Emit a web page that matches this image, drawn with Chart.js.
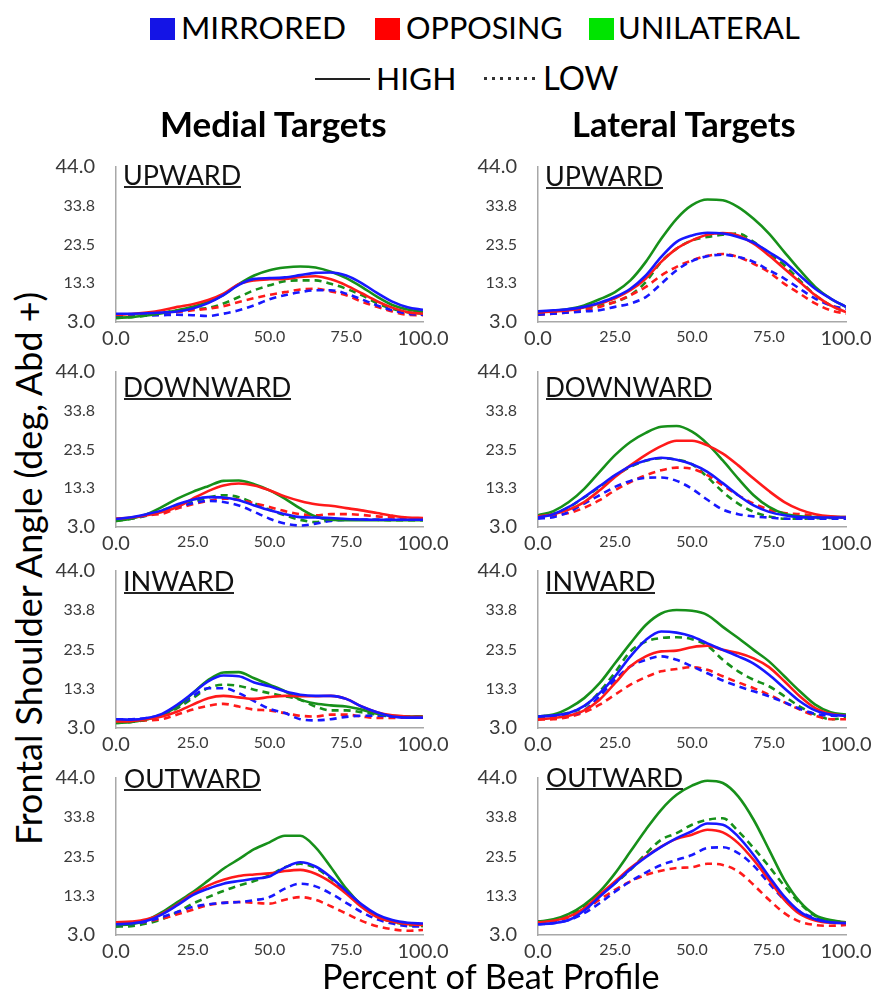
<!DOCTYPE html>
<html><head><meta charset="utf-8">
<script src="https://cdn.jsdelivr.net/npm/chart.js@4.4.1/dist/chart.umd.min.js"></script>
<style>
html,body{margin:0;padding:0;background:#fff;}
#wrap{position:relative;width:884px;height:994px;overflow:hidden;font-family:Lato,"Open Sans",sans-serif;color:#000;background:#fff;}
.t{position:absolute;white-space:nowrap;line-height:normal;font-family:Lato,sans-serif;}
.sq{position:absolute;}
.ul{position:absolute;height:2px;background:#222;}
canvas{position:absolute;}
</style></head>
<body><div id="wrap"></div>
<script>
// ---------------- DATA ----------------
const pct = [0,5,10,15,20,25,30,35,40,45,50,55,60,65,70,75,80,85,90,95,100];
const xTickValues = [0,25,50,75,100];
const xTickLabels = ['0.0','25.0','50.0','75.0','100.0'];
const yTickValues = [3,13.25,23.5,33.75,44];
const yTickLabels = ['3.0','13.3','23.5','33.8','44.0'];
const groups = ['MIRRORED','OPPOSING','UNILATERAL'];
const levels = ['HIGH','LOW'];
const columnTitles = ['Medial Targets','Lateral Targets'];
const directions = ['UPWARD','DOWNWARD','INWARD','OUTWARD'];
const yTitle = 'Frontal Shoulder Angle (deg, Abd +)';
const xTitle = 'Percent of Beat Profile';

// Medial UPWARD
const medUp_MIR_H = [5.2,5.2,5.3,5.5,5.8,6.6,8.0,10.1,12.8,14.4,14.6,14.8,15.4,16.0,16.1,15.3,13.3,10.7,8.4,6.9,6.2];
const medUp_OPP_H = [4.9,5.1,5.5,6.1,7.0,7.7,8.8,10.5,13.0,14.0,14.3,14.4,14.9,15.1,14.3,12.7,10.6,8.5,6.8,5.6,5.2];
const medUp_UNI_H = [4.1,4.3,4.7,5.3,6.1,7.0,8.3,10.2,13.0,15.3,16.7,17.4,17.7,17.4,16.3,14.6,12.3,9.7,7.5,6.3,5.6];
const medUp_MIR_L = [4.6,4.6,4.7,4.8,4.9,4.8,4.6,5.2,6.1,7.4,9.0,10.1,10.9,11.4,11.4,10.5,9.0,7.4,6.1,5.2,4.9];
const medUp_OPP_L = [4.6,4.7,4.9,5.2,5.6,6.1,6.5,7.2,8.3,9.3,10.2,10.9,11.6,11.8,11.1,10.1,8.4,7.0,5.8,4.9,4.8];
const medUp_UNI_L = [4.1,4.3,4.7,5.4,6.1,6.4,6.7,7.9,9.6,11.4,12.7,13.8,14.0,14.0,13.1,11.8,10.1,8.0,6.5,5.6,5.2];
// Lateral UPWARD
const latUp_MIR_H = [5.8,6.1,6.4,7.0,8.1,9.6,11.8,15.3,20.2,24.2,25.9,26.6,26.4,25.5,24.0,21.5,18.9,15.3,11.8,9.2,7.0];
const latUp_OPP_H = [5.5,5.8,6.1,6.9,7.9,9.3,11.4,14.5,18.9,22.4,24.6,26.1,26.5,25.9,23.7,20.6,17.1,13.6,10.1,7.4,5.6];
const latUp_UNI_H = [5.6,5.9,6.4,7.4,9.0,10.9,14.0,18.9,25.0,30.3,33.9,35.4,35.2,33.4,30.3,26.4,21.5,16.7,12.3,9.2,7.0];
const latUp_MIR_L = [4.9,5.2,5.5,5.8,6.1,7.0,7.9,9.6,13.1,16.7,19.1,20.4,20.8,20.2,18.9,16.7,14.5,11.8,9.2,7.4,6.5];
const latUp_OPP_L = [4.9,5.2,5.6,6.2,7.0,8.3,10.1,12.3,15.3,17.6,19.3,20.5,21.0,20.2,18.4,16.2,13.1,10.5,7.9,6.1,5.2];
const latUp_UNI_L = [5.3,5.6,6.0,6.6,7.4,8.3,10.1,13.6,18.9,22.4,24.6,25.5,26.1,26.4,24.2,21.1,18.0,14.0,10.1,7.4,5.6];
// Medial DOWNWARD
const medDown_MIR_H = [5.1,5.6,6.4,7.4,9.0,10.2,10.9,10.8,10.1,8.7,7.4,6.4,5.6,5.5,5.4,5.1,5.0,4.9,4.9,4.9,4.9];
const medDown_OPP_H = [5.2,5.5,6.1,7.0,8.3,10.5,12.5,14.0,14.5,14.0,12.7,11.1,9.9,9.0,8.6,8.0,7.4,6.7,6.0,5.5,5.4];
const medDown_UNI_H = [4.6,5.2,6.4,8.3,10.5,12.3,13.8,15.2,15.3,14.3,12.7,10.5,7.9,5.8,4.9,4.8,4.8,4.8,4.8,4.8,4.8];
const medDown_MIR_L = [5.0,5.3,6.1,7.0,8.3,9.3,9.9,9.6,8.7,7.0,5.2,3.9,3.4,3.9,4.6,4.9,4.9,4.9,4.9,4.9,4.9];
const medDown_OPP_L = [5.2,5.4,6.1,6.5,7.9,9.0,9.9,10.5,10.2,9.3,8.3,7.2,6.4,6.1,6.4,6.4,6.2,5.8,5.5,5.3,5.2];
const medDown_UNI_L = [4.6,5.2,6.0,7.4,8.6,9.6,10.8,11.4,10.9,9.3,7.6,6.1,4.9,4.3,4.8,4.9,4.9,4.9,4.8,4.8,4.8];
// Lateral DOWNWARD
const latDown_MIR_H = [5.5,6.4,8.3,10.9,13.8,16.7,19.1,20.6,21.3,20.8,19.6,17.6,14.6,11.4,8.7,7.0,6.1,5.6,5.5,5.5,5.5];
const latDown_OPP_H = [5.8,6.4,7.6,9.6,12.7,16.2,19.3,22.1,24.4,25.8,25.8,24.6,22.4,19.3,15.8,12.5,9.6,7.6,6.4,5.8,5.6];
const latDown_UNI_H = [6.1,7.2,9.6,13.1,17.6,22.0,25.5,27.9,29.5,29.7,28.2,25.0,20.6,15.8,11.4,8.3,6.5,5.8,5.6,5.6,5.6];
const latDown_MIR_L = [5.2,5.6,7.0,9.2,11.4,13.6,15.2,16.0,16.1,15.2,13.1,10.2,7.6,6.4,5.8,5.5,5.2,5.2,5.2,5.2,5.2];
const latDown_OPP_L = [5.8,6.1,6.7,8.1,10.1,12.7,14.9,16.7,18.0,18.7,18.4,16.7,14.0,11.4,9.2,7.6,6.7,6.4,6.0,5.6,5.5];
const latDown_UNI_L = [5.8,6.5,8.2,10.8,13.6,16.5,18.9,20.5,21.2,20.8,19.6,16.2,12.3,9.2,7.0,5.8,5.2,5.2,5.3,5.4,5.5];
// Medial INWARD
const medIn_MIR_H = [5.3,5.2,5.6,6.7,9.1,12.1,15.2,16.7,16.5,14.9,13.9,12.6,11.7,11.4,11.4,10.6,8.6,7.1,6.0,5.7,5.7];
const medIn_OPP_H = [4.7,4.8,5.3,6.0,7.3,9.1,10.8,11.4,11.0,10.6,11.1,11.4,11.3,11.3,11.4,10.6,8.6,7.1,6.3,6.0,5.9];
const medIn_UNI_H = [4.3,4.6,5.2,6.5,8.6,12.1,15.5,17.5,17.6,16.0,14.3,12.6,10.4,9.4,8.9,8.6,7.8,6.7,6.2,6.0,6.0];
const medIn_MIR_L = [5.3,5.3,5.6,6.5,8.6,11.3,13.4,13.4,12.1,10.0,8.0,6.9,5.3,5.0,5.3,5.9,6.2,6.2,6.0,5.9,5.9];
const medIn_OPP_L = [4.6,4.7,5.0,5.3,6.5,7.8,8.8,9.3,8.6,7.8,7.6,6.9,6.2,6.0,6.5,6.5,6.0,5.6,5.6,5.8,5.9];
const medIn_UNI_L = [4.3,4.6,5.2,6.3,8.2,10.8,13.4,14.3,14.0,13.0,12.1,11.3,10.4,8.6,7.6,7.6,7.1,6.5,6.0,6.0,6.0];
// Lateral INWARD
const latIn_MIR_H = [6.0,6.3,6.9,8.8,12.1,16.5,21.7,26.0,28.2,27.9,26.9,25.1,23.4,21.7,19.8,16.9,13.4,10.0,7.6,6.5,6.2];
const latIn_OPP_H = [5.3,5.6,6.2,7.6,10.4,14.7,19.1,21.7,23.0,23.2,24.1,24.5,23.4,22.6,21.2,18.9,15.2,11.3,8.2,6.7,6.2];
const latIn_UNI_H = [6.0,6.5,8.2,10.8,14.7,19.9,25.1,29.9,32.9,33.8,33.6,32.5,29.4,26.5,23.4,20.4,16.5,12.6,9.1,7.1,6.5];
const latIn_MIR_L = [5.8,5.9,6.3,7.6,11.3,15.6,19.1,20.8,21.7,20.8,19.1,17.3,15.4,13.9,12.6,11.3,9.7,8.0,6.7,6.2,6.2];
const latIn_OPP_L = [5.2,5.3,5.9,7.1,9.1,11.7,14.3,16.3,17.8,18.4,18.9,18.2,16.5,14.9,13.4,11.7,9.7,7.8,6.2,5.3,5.3];
const latIn_UNI_L = [6.0,6.3,7.0,8.6,12.5,17.5,23.0,25.6,26.5,26.7,26.2,24.5,20.8,17.8,15.6,13.9,11.3,8.6,6.5,5.3,5.6];
// Medial OUTWARD
const medOut_MIR_H = [5.8,6.0,6.7,8.4,10.8,13.4,15.1,16.4,17.1,17.7,18.3,20.6,22.0,20.9,18.1,14.5,11.0,8.4,6.9,6.2,6.0];
const medOut_OPP_H = [6.3,6.5,7.1,8.6,11.0,13.8,15.9,17.4,18.4,18.8,19.1,19.7,20.0,19.0,16.8,13.8,10.3,7.7,6.5,5.8,5.6];
const medOut_UNI_H = [5.6,5.8,6.9,9.0,11.6,14.2,17.2,20.3,22.8,25.4,27.2,28.9,28.9,25.9,20.7,15.1,10.8,7.9,6.5,6.0,5.6];
const medOut_MIR_L = [5.6,5.8,6.5,7.7,9.0,10.3,11.0,11.4,11.6,12.1,12.9,15.1,16.4,15.7,13.8,11.4,9.0,7.1,6.0,5.3,5.2];
const medOut_OPP_L = [5.8,6.0,6.5,7.3,8.4,9.6,10.8,11.4,11.6,11.4,11.2,12.2,12.9,12.2,10.5,8.6,6.7,5.3,4.5,4.1,4.3];
const medOut_UNI_L = [5.2,5.3,6.0,7.1,9.0,11.2,12.9,14.5,15.9,17.1,18.6,20.7,21.6,20.5,17.7,14.2,10.8,7.9,6.5,5.6,5.3];
// Lateral OUTWARD
const latOut_MIR_H = [5.8,6.1,6.9,9.4,13.0,16.5,20.2,23.3,26.0,28.3,30.1,32.1,31.8,28.7,23.9,18.3,13.0,9.1,7.1,6.3,6.1];
const latOut_OPP_H = [6.3,6.7,7.8,10.0,13.5,17.0,20.5,23.5,26.1,28.1,29.2,30.5,29.8,27.0,22.6,17.4,12.2,8.5,6.8,6.2,6.1];
const latOut_UNI_H = [6.5,7.1,8.5,10.9,14.3,19.1,24.8,30.5,35.7,39.6,42.0,43.3,42.7,39.2,33.1,25.3,17.4,11.7,8.2,6.9,6.3];
const latOut_MIR_L = [5.8,6.1,6.9,8.7,11.3,14.3,17.0,19.3,21.3,22.6,23.9,25.7,25.9,24.4,21.1,16.5,12.2,9.1,7.4,6.5,6.2];
const latOut_OPP_L = [6.3,6.6,7.6,9.5,12.2,14.8,17.0,18.7,19.8,20.5,20.7,21.6,21.3,19.6,16.1,12.2,8.7,6.5,5.6,5.4,5.6];
const latOut_UNI_L = [6.5,6.8,8.0,10.4,13.5,16.5,20.0,24.2,27.9,29.6,31.8,33.1,33.5,30.1,25.7,20.9,15.8,11.3,8.0,6.8,6.3];

// ---------------- STYLE / LAYOUT ----------------
const lineColors = {MIRRORED:'#1818ff', OPPOSING:'#ff1a1a', UNILATERAL:'#17901a'};
const legendColors = {MIRRORED:'#1414e6', OPPOSING:'#ff0000', UNILATERAL:'#00e400'};
const colLeft = [116, 538], colW = [307, 308];
const rowTop = [167, 372, 571, 778], rowH = [155, 155, 157, 157];
const YW = 70, PT = 38, PR = 34, XH = 38;

const panels = [
  {row:0,col:0,title:'UPWARD',   s:{MIRRORED:[medUp_MIR_H,medUp_MIR_L],OPPOSING:[medUp_OPP_H,medUp_OPP_L],UNILATERAL:[medUp_UNI_H,medUp_UNI_L]}},
  {row:0,col:1,title:'UPWARD',   s:{MIRRORED:[latUp_MIR_H,latUp_MIR_L],OPPOSING:[latUp_OPP_H,latUp_OPP_L],UNILATERAL:[latUp_UNI_H,latUp_UNI_L]}},
  {row:1,col:0,title:'DOWNWARD', s:{MIRRORED:[medDown_MIR_H,medDown_MIR_L],OPPOSING:[medDown_OPP_H,medDown_OPP_L],UNILATERAL:[medDown_UNI_H,medDown_UNI_L]}},
  {row:1,col:1,title:'DOWNWARD', s:{MIRRORED:[latDown_MIR_H,latDown_MIR_L],OPPOSING:[latDown_OPP_H,latDown_OPP_L],UNILATERAL:[latDown_UNI_H,latDown_UNI_L]}},
  {row:2,col:0,title:'INWARD',   s:{MIRRORED:[medIn_MIR_H,medIn_MIR_L],OPPOSING:[medIn_OPP_H,medIn_OPP_L],UNILATERAL:[medIn_UNI_H,medIn_UNI_L]}},
  {row:2,col:1,title:'INWARD',   s:{MIRRORED:[latIn_MIR_H,latIn_MIR_L],OPPOSING:[latIn_OPP_H,latIn_OPP_L],UNILATERAL:[latIn_UNI_H,latIn_UNI_L]}},
  {row:3,col:0,title:'OUTWARD',  s:{MIRRORED:[medOut_MIR_H,medOut_MIR_L],OPPOSING:[medOut_OPP_H,medOut_OPP_L],UNILATERAL:[medOut_UNI_H,medOut_UNI_L]}},
  {row:3,col:1,title:'OUTWARD',  s:{MIRRORED:[latOut_MIR_H,latOut_MIR_L],OPPOSING:[latOut_OPP_H,latOut_OPP_L],UNILATERAL:[latOut_UNI_H,latOut_UNI_L]}}
];
// title ink placement [left, width, baseline]
const titleBox = {
  UPWARD:[[125,115,185],[547,115,186]],
  DOWNWARD:[[125,165,397],[547,164,397]],
  INWARD:[[125,108,591],[547,107,591]],
  OUTWARD:[[125,135,788],[547,135,787]]
};

const wrap = document.getElementById('wrap');
const mctx = document.createElement('canvas').getContext('2d');

// place text so its ink spans [left, left+width] and its baseline sits at y
function placeText(txt, left, width, baseline, weight, color) {
  weight = weight || 'normal';
  mctx.font = weight + ' 100px Lato';
  const m = mctx.measureText(txt);
  const ink = m.actualBoundingBoxLeft + m.actualBoundingBoxRight;
  const size = 100 * width / ink;
  mctx.font = weight + ' ' + size + 'px Lato';
  const m2 = mctx.measureText(txt);
  const el = document.createElement('div');
  el.className = 't';
  el.textContent = txt;
  el.style.fontSize = size + 'px';
  el.style.fontWeight = weight;
  el.style.color = color || '#000';
  el.style.left = (left + m2.actualBoundingBoxLeft) + 'px';
  el.style.top = (baseline - m2.fontBoundingBoxAscent) + 'px';
  el.style.zIndex = 5;
  wrap.appendChild(el);
  return {el, size, m: m2};
}

// ---------------- LEGEND ----------------
const legendSq = [[150,18],[375,18],[589,18]];
const legendTxt = [[183,161],[407,154],[620,179]];
groups.forEach((g,i) => {
  const sq = document.createElement('div');
  sq.className = 'sq';
  sq.style.left = legendSq[i][0] + 'px'; sq.style.top = legendSq[i][1] + 'px';
  sq.style.width = '25px'; sq.style.height = '22px';
  sq.style.background = legendColors[g];
  wrap.appendChild(sq);
  placeText(g, legendTxt[i][0], legendTxt[i][1], 39);
});
// line style legend
(function(){
  const l1 = document.createElement('div');
  l1.style.cssText = 'position:absolute;left:315px;top:78px;width:55px;height:1.5px;background:#222;';
  wrap.appendChild(l1);
  placeText(levels[0], 378, 75, 90);
  const l2 = document.createElement('div');
  l2.style.cssText = 'position:absolute;left:484px;top:77px;width:56px;height:3px;background:repeating-linear-gradient(90deg,#333 0 3px,transparent 3px 8px);';
  wrap.appendChild(l2);
  placeText(levels[1], 546, 72, 90);
})();
// column headers
placeText(columnTitles[0], 162, 224, 137, 'bold');
placeText(columnTitles[1], 574, 221, 137, 'bold');

// axis titles
placeText(xTitle, 325, 334, 989);
(function(){
  const txt = yTitle, width = 552;
  mctx.font = 'normal 100px Lato';
  const m = mctx.measureText(txt);
  const ink = m.actualBoundingBoxLeft + m.actualBoundingBoxRight;
  const size = 100 * width / ink;
  mctx.font = 'normal ' + size + 'px Lato';
  const m2 = mctx.measureText(txt);
  const el = document.createElement('div');
  el.className = 't';
  el.textContent = txt;
  el.style.fontSize = size + 'px';
  const baselineX = 42, bottomY = 848;
  el.style.left = (baselineX - m2.fontBoundingBoxAscent) + 'px';
  el.style.top = (bottomY + m2.actualBoundingBoxLeft) + 'px';
  el.style.transformOrigin = '0 0';
  el.style.transform = 'rotate(-90deg)';
  wrap.appendChild(el);
})();

// ---------------- CHARTS ----------------
const tickFont = (ctx) => {
  const big = ctx.index === 0 || ctx.index === 4;
  return {family:'Lato', size: big ? 20 : 16};
};

panels.forEach((p) => {
  const L = colLeft[p.col], T = rowTop[p.row], W = colW[p.col], H = rowH[p.row];
  const cv = document.createElement('canvas');
  const cw = YW + W + PR, ch = PT + H + XH;
  cv.width = cw; cv.height = ch;
  cv.style.left = (L - YW) + 'px'; cv.style.top = (T - PT) + 'px';
  cv.style.width = cw + 'px'; cv.style.height = ch + 'px';
  wrap.appendChild(cv);

  const datasets = [];
  const drawOrder = [['UNILATERAL',1],['OPPOSING',1],['MIRRORED',1],['UNILATERAL',0],['OPPOSING',0],['MIRRORED',0]];
  drawOrder.forEach(([g, lv], k) => {
    const arr = p.s[g][lv];
    datasets.push({
      label: g + ' ' + levels[lv],
      data: pct.map((x, i) => ({x: x, y: arr[i]})),
      borderColor: lineColors[g],
      borderWidth: 2.6,
      borderDash: lv === 1 ? [7, 5] : [],
      pointRadius: 0,
      fill: false,
      cubicInterpolationMode: 'monotone',
      order: 6 - k
    });
  });

  new Chart(cv, {
    type: 'line',
    data: {datasets},
    options: {
      responsive: false, animation: false, devicePixelRatio: 1,
      layout: {autoPadding: false, padding: {top: PT, right: PR, left: 0, bottom: 0}},
      plugins: {legend: {display: false}, tooltip: {enabled: false}, title: {display: false}},
      scales: {
        x: {
          type: 'linear', min: 0, max: 100,
          afterFit: (s) => { s.height = XH; },
          afterBuildTicks: (s) => { s.ticks = xTickValues.map(v => ({value: v})); },
          grid: {display: false, drawTicks: false},
          border: {display: true, color: '#a8a8a8', width: 1.5},
          ticks: {padding: 5, color: '#3a3a3a', font: tickFont, maxRotation: 0, autoSkip: false,
                  callback: (v, i) => xTickLabels[i]}
        },
        y: {
          type: 'linear', min: 3, max: 44,
          afterFit: (s) => { s.width = YW; },
          afterBuildTicks: (s) => { s.ticks = yTickValues.map(v => ({value: v})); },
          grid: {display: false, drawTicks: false},
          border: {display: true, color: '#a8a8a8', width: 1.5},
          ticks: {padding: 21, color: '#3a3a3a', font: tickFont, autoSkip: false,
                  callback: (v, i) => yTickLabels[i]}
        }
      }
    }
  });

  // panel title with underline
  const tb = titleBox[p.title][p.col];
  placeText(p.title, tb[0], tb[1], tb[2], 'normal', '#111');
  const ul = document.createElement('div');
  ul.className = 'ul';
  ul.style.left = (tb[0] - 1) + 'px'; ul.style.top = (tb[2] + 1) + 'px';
  ul.style.width = (tb[1] + 2) + 'px';
  ul.style.zIndex = 5;
  wrap.appendChild(ul);
});
</script>
</body></html>
